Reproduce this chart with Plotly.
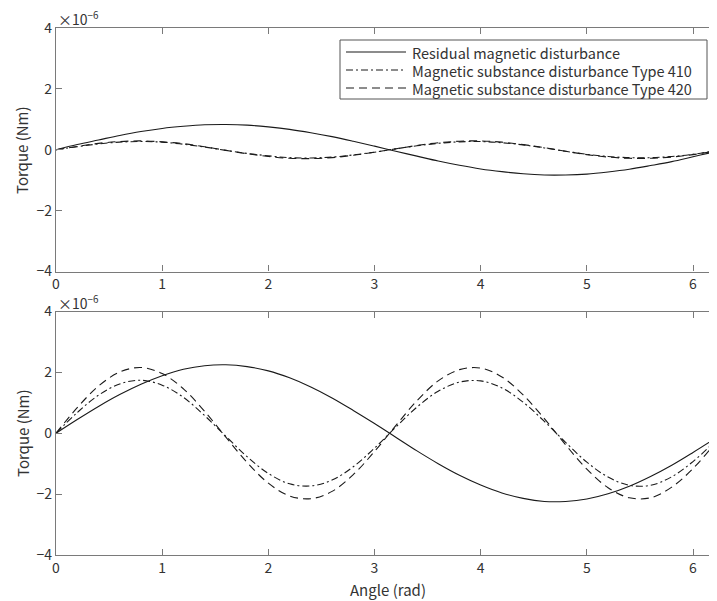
import plotly.graph_objects as go
from plotly.subplots import make_subplots

angle = [0, 0.2, 0.4, 0.6, 0.8, 1.0, 1.2, 1.4, 1.6, 1.8, 2.0, 2.2, 2.4, 2.6, 2.8, 3.0,
         3.2, 3.4, 3.6, 3.8, 4.0, 4.2, 4.4, 4.6, 4.8, 5.0, 5.2, 5.4, 5.6, 5.8, 6.0, 6.2, 6.28]

# values in units of 1e-6 Nm
top_residual = [0, 0.17, 0.32, 0.47, 0.60, 0.70, 0.77, 0.82, 0.83, 0.81, 0.75, 0.67, 0.56, 0.43, 0.28, 0.12,
                -0.05, -0.21, -0.37, -0.51, -0.63, -0.72, -0.79, -0.83, -0.83, -0.80, -0.73, -0.64, -0.52, -0.39, -0.23, -0.07, 0.00]
top_type410 = [0, 0.10, 0.19, 0.25, 0.27, 0.25, 0.18, 0.09, -0.02, -0.12, -0.20, -0.26, -0.27, -0.24, -0.17, -0.08,
               0.03, 0.13, 0.21, 0.26, 0.27, 0.23, 0.16, 0.06, -0.05, -0.15, -0.22, -0.26, -0.26, -0.22, -0.15, -0.04, 0.00]
top_type420 = [0, 0.11, 0.21, 0.27, 0.29, 0.26, 0.20, 0.10, -0.02, -0.13, -0.22, -0.28, -0.29, -0.26, -0.18, -0.08,
               0.03, 0.14, 0.23, 0.28, 0.29, 0.25, 0.17, 0.07, -0.05, -0.16, -0.24, -0.28, -0.28, -0.24, -0.16, -0.05, 0.00]

bot_residual = [0, 0.45, 0.88, 1.27, 1.61, 1.89, 2.10, 2.22, 2.25, 2.19, 2.05, 1.82, 1.52, 1.16, 0.75, 0.32,
                -0.13, -0.58, -1.00, -1.38, -1.70, -1.96, -2.14, -2.24, -2.24, -2.16, -1.99, -1.74, -1.42, -1.05, -0.63, -0.19, -0.01]
bot_type410 = [0, 0.68, 1.25, 1.62, 1.74, 1.58, 1.18, 0.58, -0.10, -0.77, -1.32, -1.66, -1.73, -1.54, -1.10, -0.49,
               0.20, 0.86, 1.38, 1.68, 1.72, 1.49, 1.02, 0.39, -0.30, -0.95, -1.44, -1.71, -1.71, -1.43, -0.93, -0.29, -0.01]
bot_type420 = [0, 0.84, 1.55, 2.01, 2.16, 1.96, 1.46, 0.72, -0.13, -0.96, -1.64, -2.06, -2.15, -1.91, -1.36, -0.60,
               0.25, 1.07, 1.72, 2.09, 2.14, 1.85, 1.26, 0.48, -0.38, -1.18, -1.79, -2.12, -2.12, -1.77, -1.16, -0.36, -0.01]

names = ["Residual magnetic disturbance",
         "Magnetic substance disturbance Type 410",
         "Magnetic substance disturbance Type 420"]
dashes = ["solid", "7px,3px,2px,3px", "8px,5px"]
y_ticks = [-4, -2, 0, 2, 4]
x_ticks = [0, 1, 2, 3, 4, 5, 6]

FONT = "Noto Sans CJK JP"
AX = "#7a7a7a"
TXT = "#333333"
LINE = "#1a1a1a"

# page has an 8px body margin: the figure is shrunk so it ends at the window edge
OFF = 8
W, H = 717 - OFF, 601 - OFF
# reference-pixel positions of the plot area
PL, PR, PT, PB = 56, 717, 28, 555
ML, MR, MT, MB = PL - OFF, 0, PT - OFF, 601 - PB
PW, PH = PR - PL, PB - PT


def px(x):
    return (x - PL) / PW


def py(y):
    return (PB - y) / PH


fig = make_subplots(rows=2, cols=1, vertical_spacing=py(272) - py(312))

for row, series in ((1, [top_residual, top_type410, top_type420]),
                    (2, [bot_residual, bot_type410, bot_type420])):
    for i, ys in enumerate(series):
        fig.add_trace(go.Scatter(
            x=angle, y=ys, mode="lines", name=names[i],
            line=dict(color=LINE, width=1.1, dash=dashes[i], shape="spline", smoothing=1.0),
            showlegend=False), row=row, col=1)

for row in (1, 2):
    fig.update_xaxes(range=[0, 6.226], tickvals=x_ticks, ticks="inside", ticklen=6,
                     tickcolor=AX, showline=True, linecolor=AX, linewidth=1.3, mirror="allticks",
                     showgrid=False, zeroline=False, automargin=False,
                     tickfont=dict(size=14, color=TXT, family=FONT), row=row, col=1)
    fig.update_yaxes(range=[-4, 4], tickvals=y_ticks, ticks="inside", ticklen=6,
                     tickcolor=AX, showline=True, linecolor=AX, linewidth=1.3,
                     showgrid=False, zeroline=False, automargin=False,
                     tickfont=dict(size=14, color=TXT, family=FONT), row=row, col=1)

# axis titles
for cy in (150, 433):
    fig.add_annotation(text="Torque (Nm)", xref="paper", yref="paper", x=px(22), y=py(cy),
                       textangle=-90, showarrow=False, xanchor="center", yanchor="middle",
                       font=dict(size=15, color=TXT, family=FONT))
fig.add_annotation(text="Angle (rad)", xref="paper", yref="paper", x=px(388), y=py(589),
                   showarrow=False, xanchor="center", yanchor="middle",
                   font=dict(size=15, color=TXT, family=FONT))

# exponent labels
for top in (PT, 312):
    fig.add_annotation(text="×10<sup>−6</sup>", xref="paper", yref="paper", x=px(56), y=py(top),
                       xanchor="left", yanchor="bottom", showarrow=False,
                       font=dict(size=14, color=TXT, family=FONT), yshift=-3)

# legend (drawn box)
fig.add_shape(type="rect", xref="paper", yref="paper", x0=px(340), x1=px(707), y0=py(99), y1=py(40),
              line=dict(color="#555555", width=1), fillcolor="white", layer="above")
for name, dash, ry in zip(names, dashes, (52, 70, 88)):
    fig.add_shape(type="line", xref="paper", yref="paper", x0=px(346), x1=px(406), y0=py(ry), y1=py(ry),
                  line=dict(color=LINE, width=1.1, dash=dash), layer="above")
    fig.add_annotation(text=name, xref="paper", yref="paper", x=px(410), y=py(ry),
                       xanchor="left", yanchor="middle", showarrow=False,
                       font=dict(size=14.5, color=TXT, family=FONT))

fig.update_layout(
    width=W, height=H,
    margin=dict(l=ML, r=MR, t=MT, b=MB),
    paper_bgcolor="white", plot_bgcolor="white",
    font=dict(family=FONT, color=TXT),
    showlegend=False,
)

fig.write_html("out.html")
